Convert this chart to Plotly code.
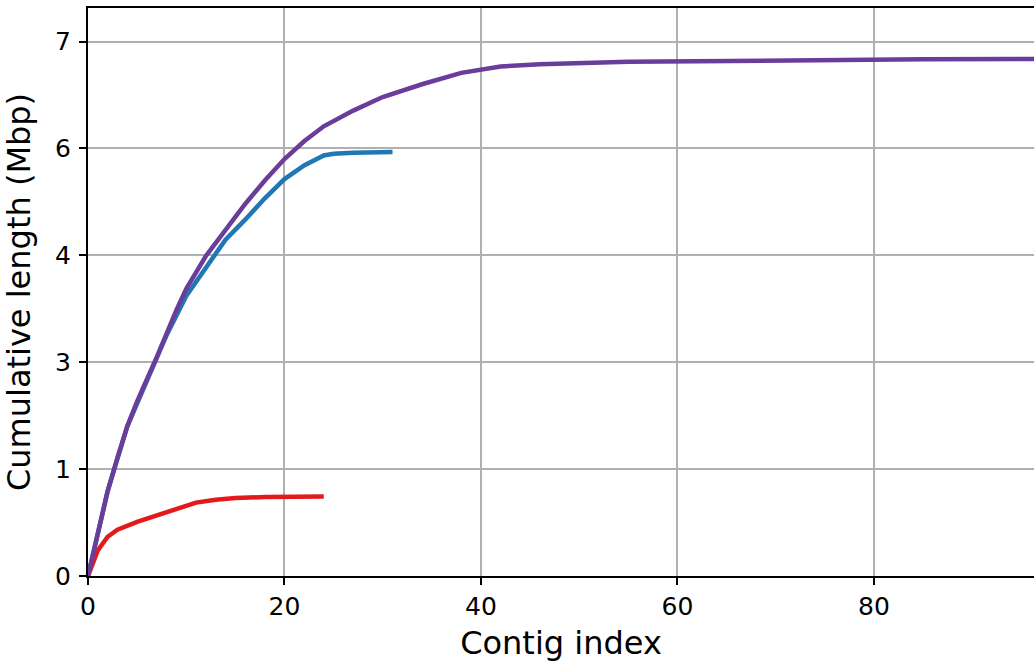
import plotly.graph_objects as go

# Cumulative contig length (Mbp) per contig index
purple_idx = [0, 1, 2, 3, 4, 5, 7, 9, 10, 12, 14, 16, 18, 20, 22, 24, 27, 30, 34, 38, 42, 46, 55, 70, 85, 100]
purple_len = [0, 0.61, 1.19, 1.66, 2.10, 2.45, 3.07, 3.73, 4.03, 4.49, 4.85, 5.22, 5.55, 5.85, 6.10, 6.31,
              6.53, 6.72, 6.90, 7.06, 7.15, 7.18, 7.215, 7.24, 7.25, 7.255]

blue_idx = [0, 1, 2, 4, 7, 8, 10, 12, 14, 16, 18, 20, 22, 24, 25, 27, 31]
blue_len = [0, 0.61, 1.19, 2.10, 3.07, 3.38, 3.93, 4.32, 4.72, 5.00, 5.30, 5.57, 5.76, 5.90, 5.925, 5.94, 5.95]

red_idx = [0, 1, 2, 3, 5, 8, 11, 13, 15, 18, 20, 24]
red_len = [0, 0.36, 0.55, 0.65, 0.76, 0.90, 1.03, 1.07, 1.095, 1.108, 1.11, 1.115]

y_tickvals = [0, 1.5, 3, 4.5, 6, 7.5]
y_ticktext = ["0", "1", "3", "4", "6", "7"]
x_tickvals = [0, 20, 40, 60, 80]

FONT = "DejaVu Sans"

fig = go.Figure()
fig.add_trace(go.Scatter(x=blue_idx, y=blue_len, mode="lines",
                         line=dict(color="#1f78b4", width=4.5), showlegend=False))
fig.add_trace(go.Scatter(x=red_idx, y=red_len, mode="lines",
                         line=dict(color="#e31a1c", width=4.5), showlegend=False))
fig.add_trace(go.Scatter(x=purple_idx, y=purple_len, mode="lines",
                         line=dict(color="#6a3d9a", width=4.5), showlegend=False))

axis_common = dict(
    showline=True, linecolor="black", linewidth=2,
    ticks="outside", ticklen=7, tickwidth=1.5, tickcolor="black",
    showgrid=True, gridcolor="#b0b0b0", gridwidth=1.6,
    zeroline=False, automargin=False,
    tickfont=dict(family=FONT, size=25, color="black"),
)

fig.update_layout(
    width=1034, height=662,
    margin=dict(l=88, r=0, t=8, b=86),
    plot_bgcolor="white", paper_bgcolor="white",
    font=dict(family=FONT, color="black"),
    xaxis=dict(range=[0, 96.3], tickvals=x_tickvals, mirror=True,
               title=dict(text="Contig index", font=dict(family=FONT, size=32), standoff=14),
               **axis_common),
    yaxis=dict(range=[0, 7.97], tickvals=y_tickvals, ticktext=y_ticktext, ticklabelstandoff=3,
               title=dict(text="Cumulative length (Mbp)", font=dict(family=FONT, size=32), standoff=20),
               **axis_common),
)

fig.write_html("out.html",
               config={"displayModeBar": False},
               post_script="document.body.style.margin='0';document.body.style.overflow='hidden';")
